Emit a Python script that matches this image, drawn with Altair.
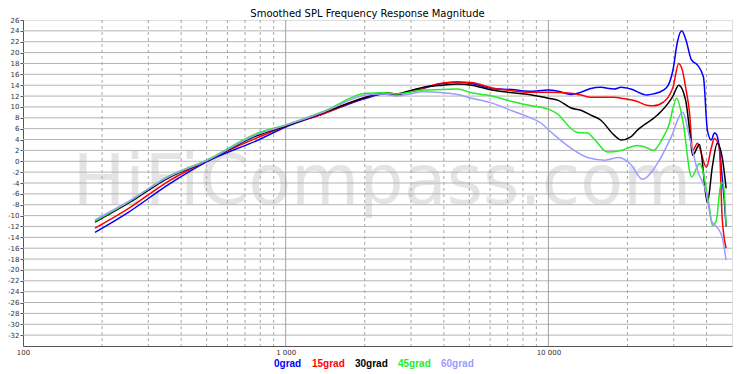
import altair as alt
import pandas as pd

# ---- data ----
series_names = ["0grad", "15grad", "30grad", "45grad", "60grad"]
series_colors = ["#0000ff", "#ff0000", "#000000", "#22ee22", "#9c9cff"]

freq_0 = [188, 250, 360, 500, 785, 1000, 1400, 2020, 2360, 2640, 2970, 3330, 3960, 4500, 5100,
          6100, 7260, 8420, 10000, 10900, 12200, 13300, 14500, 15800, 17800, 18900, 20600, 23700,
          25100, 27400, 28600, 29800, 31000, 32170, 33300, 35090, 36960, 38930, 40300, 41720,
          42820, 43560, 44710, 45880, 46680, 47490]
db_0 = [-13.1, -9.5, -4.2, -0.1, 3.9, 6.3, 8.8, 11.6, 12.4, 12.2, 12.9, 13.4, 14.3, 14.6, 14.3,
        13.4, 13.2, 12.9, 13.1, 12.9, 12.3, 12.7, 13.4, 13.6, 13.3, 13.6, 13.3, 12.2,
        12.4, 13.1, 14.0, 16.8, 22.0, 24.0, 22.5, 18.6, 17.7, 15.5, 5.7, 3.9,
        5.2, 5.0, 2.6, -3.0, -7.0, -12.0]

freq_15 = [188, 250, 360, 500, 785, 1000, 1400, 2020, 2360, 2640, 2970, 3330, 3960, 4500, 5100,
           6100, 7260, 8420, 10000, 12200, 13300, 14500, 17800, 18900, 21800, 23700, 25100, 27400,
           28600, 29800, 31340, 32450, 33310, 34480, 35390, 36960, 37610, 39950, 41720, 42820,
           44710, 45880, 47490]
db_15 = [-12.3, -8.8, -3.6, 0.1, 4.4, 6.5, 8.8, 11.8, 12.5, 12.4, 12.9, 13.5, 14.4, 14.6, 14.5,
         13.5, 13.0, 12.7, 12.7, 12.5, 12.2, 11.8, 11.8, 11.6, 11.0, 10.3, 10.2, 10.9,
         11.8, 13.6, 18.0, 16.5, 13.6, 8.8, 2.0, 3.3, 2.5, -1.1, 2.5, 4.2,
         2.6, -10.5, -16.0]

freq_30 = [188, 250, 360, 500, 785, 1000, 1400, 2020, 2360, 2640, 2970, 3330, 3960, 4500, 5100,
           6100, 7260, 8420, 10000, 10900, 12200, 13300, 14500, 15800, 17800, 18900, 20600, 21800,
           26000, 28600, 29800, 31340, 33310, 34480, 35390, 37610, 40300, 42090, 43950, 45880, 47490]
db_30 = [-11.2, -7.8, -3.0, 0.0, 4.8, 6.5, 9.0, 11.8, 12.6, 12.4, 13.0, 13.6, 14.0, 14.2, 14.0,
         13.1, 12.6, 12.3, 11.6, 11.2, 9.8, 9.4, 8.5, 7.6, 4.8, 3.9, 4.5, 5.7,
         8.5, 10.7, 12.0, 14.0, 11.2, 5.7, 1.1, 3.1, -7.6, -1.0, 3.3, 0.7, -5.0]

freq_45 = [188, 250, 360, 500, 785, 1000, 1400, 2020, 2360, 2640, 2970, 3330, 3960, 4500, 5100,
           6100, 7260, 8420, 10000, 10900, 11400, 12200, 12900, 14100, 15000, 16800, 18900, 21800,
           23700, 25100, 27400, 28600, 30800, 32450, 35090, 37610, 41010, 42090, 43560, 45490,
           46280, 47490]
db_45 = [-11.0, -7.6, -2.7, 0.2, 5.2, 6.7, 9.2, 12.5, 12.6, 12.4, 12.7, 13.1, 13.2, 13.3, 12.6,
         12.0, 11.0, 10.3, 9.6, 8.6, 7.6, 6.0, 5.3, 5.2, 4.0, 1.7, 2.0, 2.9,
         2.5, 2.0, 4.5, 6.3, 11.6, 7.6, -2.9, -0.4, -8.5, -11.8, -10.9, -3.9,
         -4.1, -11.8]

freq_60 = [188, 250, 360, 500, 785, 1000, 1400, 2020, 2360, 2640, 2970, 3330, 3960, 4500, 5100,
           6100, 7260, 8420, 9400, 10000, 10800, 12200, 14100, 16400, 18600, 20600, 22800, 26000,
           29300, 32450, 34480, 36960, 39950, 41720, 43950, 45880, 47490]
db_60 = [-10.8, -7.5, -2.8, 0.1, 5.0, 6.6, 9.1, 12.2, 12.4, 12.0, 12.4, 12.8, 12.6, 12.3, 11.6,
         10.7, 9.3, 8.1, 7.0, 5.8, 4.4, 2.4, 0.7, 0.2, 0.7, -0.6, -3.3, -0.4,
         4.4, 9.0, 4.4, -1.7, -5.9, -10.9, -12.2, -14.0, -18.2]

y_ticks = list(range(-32, 28, 2))
h_grid = list(range(-32, 26, 2))
x_labels = [100, 1000, 10000]
minor_freqs = [200, 300, 400, 500, 600, 700, 800, 900,
               2000, 3000, 4000, 5000, 6000, 7000, 8000, 9000,
               20000, 30000, 40000]
major_freqs = [1000, 10000]
watermark = ["HiFiCompass.com"]
title_text = "Smoothed SPL Frequency Response Magnitude"

# ---- build tables ----
rows = []
for name, fr, db in zip(series_names,
                        [freq_0, freq_15, freq_30, freq_45, freq_60],
                        [db_0, db_15, db_30, db_45, db_60]):
    for f, d in zip(fr, db):
        rows.append({"series": name, "freq": f, "db": d})
curves = pd.DataFrame(rows)

xscale = alt.Scale(type="log", domain=[100, 50000], nice=False)
yscale = alt.Scale(domain=[-34, 26], nice=False, zero=False)

x_axis = alt.Axis(values=x_labels, grid=False, ticks=False, domainColor="#555555",
                  labelFont="DejaVu Sans", labelFontSize=7, labelColor="#333333",
                  labelPadding=2, labelFlush=False,
                  labelExpr="replace(format(datum.value, ','), ',', ' ')")
y_axis = alt.Axis(values=y_ticks, grid=False, tickSize=3, tickColor="#555555",
                  domainColor="#555555", labelFont="DejaVu Sans", labelFontSize=7,
                  labelColor="#333333", labelPadding=1,
                  labelExpr="'' + datum.value")

wm = alt.Chart(pd.DataFrame({"t": watermark})).mark_text(
    font="DejaVu Sans", fontSize=70, color="#e4e4e4", align="center", baseline="alphabetic"
).encode(x=alt.value(359), y=alt.value(184), text="t:N")

hgrid = alt.Chart(pd.DataFrame({"v": h_grid})).mark_rule(
    color="#b4b4b4", strokeWidth=1
).encode(y=alt.Y("v:Q", scale=yscale, axis=y_axis, title=None))

vminor = alt.Chart(pd.DataFrame({"f": minor_freqs})).mark_rule(
    color="#a8a8a8", strokeWidth=1, strokeDash=[3, 3]
).encode(x=alt.X("f:Q", scale=xscale, axis=x_axis, title=None))

vmajor = alt.Chart(pd.DataFrame({"f": major_freqs})).mark_rule(
    color="#a0a0a0", strokeWidth=1
).encode(x=alt.X("f:Q", scale=xscale, axis=x_axis, title=None))

lines = alt.Chart(curves).mark_line(strokeWidth=1.5, interpolate="monotone", clip=True).encode(
    x=alt.X("freq:Q", scale=xscale, title=None, axis=x_axis),
    y=alt.Y("db:Q", scale=yscale, title=None, axis=y_axis),
    color=alt.Color("series:N", scale=alt.Scale(domain=series_names, range=series_colors),
                    legend=alt.Legend(orient="none", legendX=241, legendY=339,
                                      direction="horizontal", title=None,
                                      symbolSize=1, symbolOpacity=0, symbolStrokeWidth=0,
                                      labelOffset=0, gridAlign="each", columnPadding=-1,
                                      labelFont="Liberation Sans", labelFontSize=10,
                                      labelFontWeight="bold",
                                      labelColor=alt.ExprRef(expr="scale('color', datum.value)"))),
    detail="series:N",
)

chart = alt.layer(wm, hgrid, vminor, vmajor, lines).properties(
    width=709, height=326,
    title=alt.TitleParams(title_text, font="DejaVu Sans", fontSize=10, fontWeight="normal",
                          anchor="middle", offset=1, dx=-10, dy=4, color="#000000"),
    autosize=alt.AutoSizeParams(type="none"),
    padding={"left": 15, "top": 12, "right": 10, "bottom": 24},
).configure_view(stroke="#888888", strokeWidth=1).configure(background="#ffffff")

chart.save("out.html", embed_options={"renderer": "svg", "actions": False})
